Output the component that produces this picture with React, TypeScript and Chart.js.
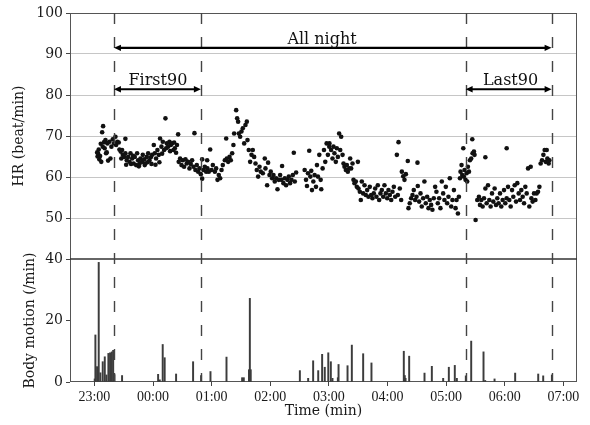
import React, { useEffect, useRef } from 'react';
import { Chart, registerables } from 'chart.js';

Chart.register(...registerables);

// minutes after 23:00
const timeRange = [-25, 494];
const timeTickMinutes = [0, 60, 120, 180, 240, 300, 360, 420, 480];
const timeTickLabels = ['23:00', '00:00', '01:00', '02:00', '03:00', '04:00', '05:00', '06:00', '07:00'];
const hrTicks = [40, 50, 60, 70, 80, 90, 100];
const motionTicks = [0, 20, 40];

const markerMinutes = [20, 109, 380, 468];
const periodNames = ['All night', 'First90', 'Last90'];
const periodStart = [20, 20, 380];
const periodEnd = [468, 109, 468];
const periodHR = [91.5, 81.4, 81.4];
const periodLabelAt = [233, 65, 426];

// heart rate: [minute after 23:00, beat/min]
const hrPoints: [number, number][] = [
  [2.8, 66.0], [3.2, 65.0], [3.7, 65.8], [4.4, 66.7], [5.0, 64.3], [5.8, 65.1], [6.5, 68.1], [7.0, 63.7], [7.9, 70.9], [8.9, 72.4],
  [8.5, 67.4], [9.9, 68.5], [10.5, 67.0], [11.3, 69.0], [11.9, 65.8], [12.6, 66.0], [13.3, 68.2], [14.0, 64.0], [15.4, 68.6], [16.4, 64.5],
  [17.4, 67.4], [18.8, 69.2], [20.1, 68.2], [21.5, 69.8], [22.2, 67.8], [23.5, 68.6], [24.9, 68.4], [25.6, 66.7], [26.9, 66.2], [27.5, 64.5],
  [28.3, 66.6], [29.0, 65.4], [30.4, 64.9], [31.7, 69.3], [31.7, 65.8], [32.5, 63.0], [33.1, 64.1], [34.5, 64.9], [35.8, 63.7], [36.9, 65.8],
  [37.5, 63.2], [38.6, 64.5], [39.5, 65.2], [40.2, 63.3], [41.3, 64.9], [42.7, 62.9], [43.7, 65.8], [44.7, 64.1], [45.5, 62.6], [46.1, 63.2],
  [47.1, 64.5], [48.8, 63.7], [49.5, 65.4], [50.9, 64.3], [51.5, 62.9], [52.2, 63.3], [53.6, 64.9], [54.3, 63.6], [55.0, 65.8], [56.3, 64.1],
  [57.7, 64.8], [58.4, 63.2], [59.1, 65.4], [60.8, 67.8], [61.8, 65.8], [62.5, 63.0], [63.1, 64.5], [64.5, 66.6], [65.9, 65.4], [66.5, 63.6],
  [67.2, 69.4], [68.6, 67.4], [69.3, 65.7], [70.0, 68.6], [71.3, 66.6], [72.7, 74.3], [73.4, 67.0], [74.1, 68.2], [75.4, 67.4], [76.8, 68.6],
  [77.5, 66.3], [78.2, 67.8], [79.5, 68.2], [80.9, 66.6], [81.6, 68.4], [82.3, 67.0], [83.6, 65.9], [84.5, 67.8], [85.7, 70.4], [86.3, 63.7],
  [87.7, 64.5], [89.1, 62.9], [90.5, 64.1], [91.8, 62.5], [93.2, 64.3], [94.5, 63.3], [95.9, 63.7], [97.3, 62.1], [98.6, 63.2], [100.0, 64.1],
  [101.4, 62.5], [102.4, 70.7], [103.4, 61.7], [104.8, 62.9], [106.2, 61.3], [107.5, 62.1], [108.9, 60.7], [110.3, 64.3], [110.3, 59.6], [111.6, 61.7],
  [113.0, 62.5], [114.4, 61.3], [115.4, 64.1], [115.7, 62.1], [117.1, 61.3], [118.5, 66.7], [119.8, 61.7], [121.2, 62.9], [123.3, 61.3], [124.6, 62.1],
  [126.0, 59.3], [127.3, 60.5], [128.7, 59.7], [130.1, 61.7], [131.4, 62.9], [133.5, 64.1], [134.9, 69.4], [135.5, 64.5], [136.9, 63.7], [138.3, 64.9],
  [139.6, 64.1], [141.0, 65.8], [142.3, 67.8], [143.0, 70.6], [145.1, 76.3], [146.1, 74.3], [147.1, 73.5], [147.8, 70.6], [149.2, 69.8], [150.5, 71.1],
  [151.9, 71.9], [153.3, 68.2], [154.6, 72.7], [156.0, 73.5], [156.7, 69.0], [158.0, 66.6], [159.4, 63.7], [160.8, 65.4], [162.1, 66.6], [163.5, 64.9],
  [164.9, 63.3], [166.2, 61.7], [167.6, 60.1], [169.0, 62.5], [170.3, 61.3], [172.4, 60.9], [174.4, 64.5], [175.1, 62.1], [176.8, 58.0], [177.8, 63.5],
  [179.2, 60.5], [180.5, 61.3], [181.9, 59.7], [183.3, 60.5], [184.6, 58.9], [186.0, 59.7], [187.4, 57.0], [188.7, 59.3], [190.1, 60.5], [191.5, 59.3],
  [192.1, 62.7], [193.5, 58.5], [194.9, 59.7], [196.2, 58.0], [197.6, 59.3], [199.0, 60.1], [200.3, 58.5], [201.7, 59.3], [203.1, 60.5], [204.1, 65.9],
  [205.1, 58.9], [206.5, 61.1], [215.2, 61.7], [216.6, 59.3], [217.6, 57.8], [218.6, 60.9], [219.9, 66.4], [221.0, 60.1], [222.0, 61.5], [222.7, 56.8],
  [224.1, 58.9], [225.4, 60.5], [226.8, 57.6], [227.8, 62.9], [228.8, 60.1], [230.2, 65.4], [231.6, 59.3], [232.2, 57.0], [233.6, 62.1], [235.0, 66.6],
  [236.3, 63.7], [237.7, 68.2], [239.0, 65.4], [240.4, 67.4], [240.6, 68.2], [242.3, 66.6], [243.7, 64.5], [244.7, 67.4], [245.7, 65.8], [247.1, 63.7],
  [248.1, 67.0], [249.2, 64.9], [250.5, 70.6], [251.6, 66.6], [252.6, 69.8], [254.0, 65.4], [255.0, 63.3], [256.0, 62.5], [257.4, 61.7], [258.4, 62.9],
  [259.4, 61.3], [260.8, 62.1], [261.8, 64.5], [262.8, 62.1], [264.2, 63.3], [265.2, 59.3], [266.2, 58.5], [267.6, 58.9], [268.6, 57.6], [269.7, 63.7],
  [270.3, 57.2], [271.7, 56.4], [272.7, 54.4], [273.7, 58.9], [275.1, 56.0], [276.5, 58.0], [277.8, 55.6], [279.2, 56.8], [280.5, 55.2], [281.9, 57.6],
  [283.3, 55.6], [284.6, 54.8], [286.0, 56.0], [287.4, 57.2], [288.7, 55.2], [290.1, 58.0], [291.5, 54.4], [292.8, 56.0], [294.2, 56.8], [295.6, 55.2],
  [296.9, 58.0], [298.3, 56.0], [299.7, 54.8], [301.0, 56.8], [302.4, 55.6], [303.8, 54.4], [305.1, 56.4], [306.5, 57.6], [307.9, 55.2], [309.6, 65.4],
  [310.6, 55.6], [311.3, 68.5], [312.6, 57.2], [314.0, 54.4], [314.7, 61.3], [316.1, 60.2], [317.4, 59.3], [318.8, 60.7], [320.8, 63.9], [321.5, 52.4],
  [322.8, 53.6], [324.2, 54.8], [325.6, 55.6], [326.9, 56.8], [328.3, 54.4], [329.7, 55.2], [330.7, 63.5], [331.0, 57.8], [332.4, 54.0], [333.8, 56.0],
  [335.1, 52.8], [336.5, 54.8], [337.8, 58.9], [339.2, 53.6], [340.6, 55.2], [342.0, 52.4], [343.3, 54.4], [344.7, 53.2], [346.0, 52.0], [347.4, 54.8],
  [348.8, 57.6], [350.1, 56.4], [351.5, 53.6], [352.9, 54.8], [354.2, 52.4], [355.6, 58.9], [357.0, 56.0], [358.3, 54.4], [359.7, 57.6], [361.1, 53.6],
  [362.4, 55.2], [363.8, 59.7], [365.2, 52.8], [366.5, 54.4], [368.0, 56.8], [369.7, 52.4], [370.7, 54.4], [372.1, 51.1], [373.1, 55.2], [374.2, 59.7],
  [374.8, 61.3], [375.8, 62.9], [376.5, 60.5], [377.6, 67.0], [378.2, 60.1], [378.9, 61.7], [379.9, 59.3], [381.0, 60.9], [381.6, 58.9], [382.3, 62.5],
  [383.4, 61.3], [384.4, 64.1], [385.7, 64.5], [386.8, 69.2], [387.1, 65.8], [388.5, 66.2], [389.1, 65.4], [390.2, 49.5], [391.9, 54.4], [393.6, 55.2],
  [394.7, 53.2], [396.0, 54.4], [397.4, 52.8], [398.8, 54.8], [400.2, 64.8], [400.2, 57.2], [401.5, 53.6], [402.9, 58.0], [404.2, 54.4], [405.6, 52.8],
  [407.0, 56.0], [408.3, 54.0], [409.7, 57.2], [411.1, 53.2], [412.4, 54.8], [413.8, 53.6], [415.2, 56.0], [416.5, 52.8], [417.9, 54.4], [419.3, 56.8],
  [420.6, 53.6], [422.0, 67.0], [422.0, 54.8], [423.4, 57.6], [424.7, 54.4], [426.1, 52.8], [427.5, 56.8], [428.8, 55.2], [430.2, 58.0], [431.6, 54.0],
  [432.9, 58.5], [434.3, 56.0], [435.7, 54.4], [437.0, 56.8], [438.4, 55.2], [439.8, 53.6], [441.1, 57.6], [442.5, 56.0], [443.9, 62.1], [445.2, 52.8],
  [446.6, 62.5], [447.3, 54.8], [448.6, 54.0], [450.0, 56.0], [451.4, 54.4], [452.7, 56.0], [454.1, 56.4], [455.5, 57.6], [456.8, 63.3], [458.2, 64.1],
  [459.6, 65.4], [460.9, 66.6], [462.0, 63.7], [463.0, 66.6], [463.7, 64.5], [465.0, 63.3], [465.7, 64.1],
];

// body motion: minute after 23:00 and counts per minute
const motionMinutes = [
  0.3, 1.0, 2.7, 4.4, 6.1, 8.5, 10.6, 12.3, 14.3, 16.0, 17.8, 19.2, 20.5, 28.3, 65.2, 66.9, 69.9, 71.9, 83.6, 101.0,
  109.2, 118.8, 135.2, 151.2, 152.9, 158.2, 159.1, 160.0, 210.3, 218.8, 223.9, 229.1, 233.1, 235.8, 239.4, 242.0, 243.7, 249.2, 249.9, 259.1,
  263.5, 275.1, 283.6, 316.7, 317.7, 318.5, 322.2, 337.9, 345.4, 357.0, 362.8, 368.9, 371.0, 380.2, 385.7, 398.3, 400.0, 409.6, 430.7, 454.3,
  459.4, 468.3,
];
const motionValues = [
  1, 15.3, 5, 38.9, 3, 6.6, 8.2, 2.3, 9.3, 9.5, 9.8, 10.3, 2.4, 2.1, 2.5, 0.7, 12.2, 7.9, 2.6, 6.6,
  2.1, 3.4, 8.1, 1.4, 1.4, 4, 27.2, 4, 3.7, 1.2, 6.9, 3.7, 9.0, 4.8, 9.5, 6.6, 1.2, 1.4, 5.7, 5.3,
  12.0, 9.2, 6.2, 10.0, 2.1, 1.2, 8.4, 2.9, 5.1, 1.2, 4.8, 5.4, 1.2, 2.0, 13.3, 9.8, 0.5, 1.0, 2.9, 2.6,
  2.0, 2.3,
];

const SERIF = '"DejaVu Serif", serif';

const overlayPlugin = {
  id: 'overlay',
  beforeDatasetsDraw(chart: any) {
    const { ctx, chartArea: a, scales } = chart;
    const ySep = scales.yHR.getPixelForValue(40);
    ctx.save();
    ctx.strokeStyle = '#555';
    ctx.lineWidth = 1;
    ctx.strokeRect(a.left + 0.5, a.top + 0.5, a.right - a.left - 1, a.bottom - a.top - 1);
    ctx.strokeStyle = '#333';
    ctx.lineWidth = 1.5;
    ctx.beginPath();
    ctx.moveTo(a.left, ySep);
    ctx.lineTo(a.right, ySep);
    ctx.stroke();
    ctx.restore();
  },
  afterDatasetsDraw(chart: any) {
    const { ctx, chartArea: a, scales } = chart;
    const xs = scales.x;
    const yh = scales.yHR;
    ctx.save();
    // dashed period markers
    ctx.strokeStyle = '#444';
    ctx.lineWidth = 1.4;
    ctx.setLineDash([11, 13]);
    markerMinutes.forEach((m) => {
      const x = Math.round(xs.getPixelForValue(m)) + 0.5;
      ctx.beginPath();
      ctx.moveTo(x, a.top);
      ctx.lineTo(x, a.bottom);
      ctx.stroke();
    });
    ctx.setLineDash([]);
    // arrows
    ctx.strokeStyle = '#000';
    ctx.fillStyle = '#000';
    ctx.lineWidth = 2.2;
    const head = (x: number, y: number, dir: number) => {
      ctx.beginPath();
      ctx.moveTo(x, y);
      ctx.lineTo(x - dir * 7, y - 3.2);
      ctx.lineTo(x - dir * 7, y + 3.2);
      ctx.closePath();
      ctx.fill();
    };
    periodNames.forEach((name, i) => {
      const x1 = xs.getPixelForValue(periodStart[i]);
      const x2 = xs.getPixelForValue(periodEnd[i]);
      const y = yh.getPixelForValue(periodHR[i]);
      ctx.beginPath();
      ctx.moveTo(x1 + 4, y);
      ctx.lineTo(x2 - 4, y);
      ctx.stroke();
      head(x1, y, -1);
      head(x2, y, 1);
      ctx.font = `16px ${SERIF}`;
      ctx.textAlign = 'center';
      ctx.textBaseline = 'alphabetic';
      ctx.fillStyle = '#111';
      ctx.fillText(name, xs.getPixelForValue(periodLabelAt[i]), y - 4);
      ctx.fillStyle = '#000';
    });
    ctx.restore();
  },
};

export default function App() {
  const ref = useRef<HTMLCanvasElement | null>(null);

  useEffect(() => {
    if (!ref.current) return;
    const chart = new Chart(ref.current, {
      type: 'scatter',
      data: {
        datasets: [
          {
            type: 'scatter',
            label: 'HR',
            data: hrPoints.map(([x, y]) => ({ x, y })),
            xAxisID: 'x',
            yAxisID: 'yHR',
            pointRadius: 2.3,
            pointBackgroundColor: '#111',
            pointBorderWidth: 0,
            pointHoverRadius: 2.3,
          } as any,
          {
            type: 'bar',
            label: 'Body motion',
            data: motionMinutes.map((m, i) => ({ x: m, y: motionValues[i] })),
            xAxisID: 'x',
            yAxisID: 'yBM',
            backgroundColor: '#3c3c3c',
            barThickness: 1.3,
            borderWidth: 0,
          } as any,
        ],
      },
      options: {
        animation: false,
        responsive: true,
        maintainAspectRatio: false,
        layout: { padding: { top: 13, right: 13, left: 0, bottom: 0 } },
        plugins: { legend: { display: false }, tooltip: { enabled: false } },
        scales: {
          x: {
            type: 'linear',
            position: 'bottom',
            offset: false,
            min: timeRange[0],
            max: timeRange[1],
            afterBuildTicks: (s: any) => {
              s.ticks = timeTickMinutes.map((v) => ({ value: v }));
            },
            afterFit: (s: any) => {
              s.height = 43;
            },
            border: { display: false },
            grid: { offset: false, drawOnChartArea: false, drawTicks: true, tickLength: 4, tickColor: '#444' },
            ticks: {
              padding: 3,
              color: '#1a1a1a',
              font: { family: '"Liberation Serif", serif', size: 14 },
              maxRotation: 0,
              autoSkip: false,
              callback: (v: any) => {
                const i = timeTickMinutes.indexOf(Number(v));
                return i >= 0 ? timeTickLabels[i] : '';
              },
            },
            title: {
              display: true,
              text: 'Time (min)',
              color: '#1a1a1a',
              font: { family: SERIF, size: 14 },
              padding: { top: 0, bottom: 5 },
            },
          },
          yBM: {
            type: 'linear',
            position: 'left',
            stack: 'panels',
            stackWeight: 1,
            min: motionTicks[0],
            max: motionTicks[motionTicks.length - 1],
            afterBuildTicks: (s: any) => {
              s.ticks = motionTicks.map((v) => ({ value: v }));
            },
            afterFit: (s: any) => {
              s.width = 70;
            },
            border: { display: false },
            grid: { drawOnChartArea: false, drawTicks: true, tickLength: 4, tickColor: '#444' },
            ticks: {
              padding: 3,
              color: '#1a1a1a',
              font: { family: SERIF, size: 14 },
            },
            title: {
              display: true,
              text: 'Body motion (/min)',
              color: '#1a1a1a',
              font: { family: SERIF, size: 14 },
              padding: { top: 21.5, bottom: 0 },
            },
          },
          yHR: {
            type: 'linear',
            position: 'left',
            stack: 'panels',
            stackWeight: 2,
            min: hrTicks[0],
            max: hrTicks[hrTicks.length - 1],
            afterBuildTicks: (s: any) => {
              s.ticks = hrTicks.map((v) => ({ value: v }));
            },
            afterFit: (s: any) => {
              s.width = 70;
            },
            border: { display: false },
            grid: {
              color: (c: any) => (c.tick && (c.tick.value === 40 || c.tick.value === 100) ? 'rgba(0,0,0,0)' : '#c6c6c6'),
              lineWidth: 1,
              drawTicks: true,
              tickLength: 4,
              tickColor: '#444',
            },
            ticks: {
              padding: 3,
              color: '#1a1a1a',
              font: { family: SERIF, size: 14 },
              callback: (v: any) => (Number(v) === 40 ? '' : String(v)),
            },
            title: {
              display: true,
              text: 'HR (beat/min)',
              color: '#1a1a1a',
              font: { family: SERIF, size: 14 },
              padding: { top: 10.5, bottom: 0 },
            },
          },
        },
      } as any,
      plugins: [overlayPlugin],
    });
    return () => chart.destroy();
  }, []);

  return (
    <div style={{ position: 'fixed', left: 0, top: 0, width: 590, height: 425, background: '#fff' }}>
      <canvas ref={ref} />
    </div>
  );
}
